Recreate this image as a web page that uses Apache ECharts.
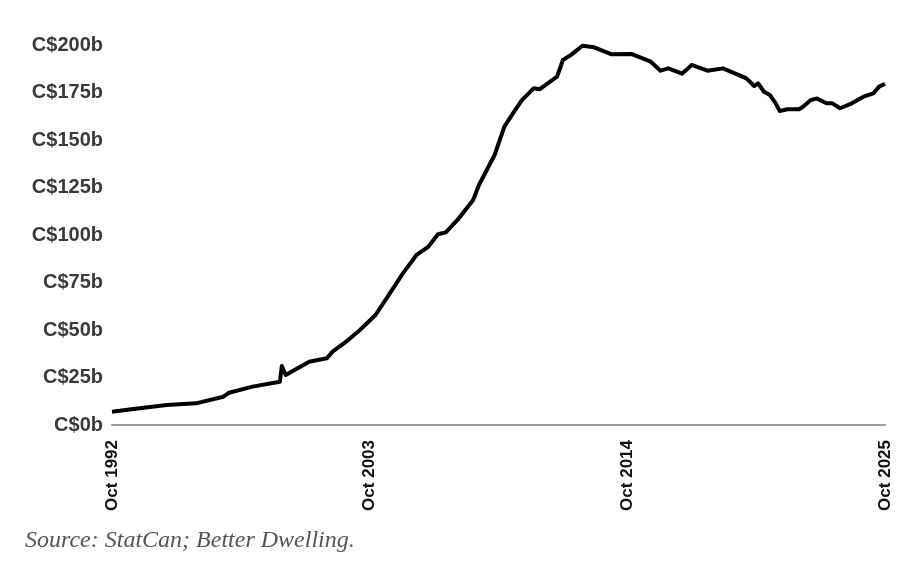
<!DOCTYPE html>
<html>
<head>
<meta charset="utf-8">
<script src="https://cdn.jsdelivr.net/npm/echarts@6/dist/echarts.min.js"></script>
<style>
html,body{margin:0;padding:0;background:#fff;}
#chart{width:922px;height:566px;}
</style>
</head>
<body>
<div id="chart"></div>
<script>
// Dates (year-month) and values in C$ billions
const dates = ["1992-10","1993-09","1995-02","1996-05","1997-07","1997-10","1998-10","1999-12","2000-01","2000-03",
"2001-03","2001-12","2002-03","2002-11","2003-05","2004-01","2004-10","2005-03","2005-10","2006-04",
"2006-09","2007-01","2007-07","2008-03","2008-06","2009-02","2009-07","2009-12","2010-04","2010-10",
"2011-01","2011-10","2012-01","2012-05","2012-11","2013-05","2014-02","2014-12","2015-10","2016-03",
"2016-07","2017-02","2017-07","2018-03","2018-11","2019-06","2019-11","2020-03","2020-05","2020-08",
"2020-11","2021-02","2021-04","2021-08","2022-02","2022-04","2022-08","2022-11","2023-04","2023-07",
"2023-11","2024-05","2024-11","2025-04","2025-07","2025-10"];
const values = [7.0,8.4,10.5,11.4,14.9,17.0,20.2,22.8,31.0,26.3,
33.3,35.1,38.6,44.7,50.0,57.9,71.9,79.8,89.5,93.8,
100.4,101.4,107.9,118.4,126.3,142.1,157.0,164.9,171.0,177.2,
176.7,183.3,192.1,194.7,199.6,198.8,195.1,195.3,191.2,186.5,
187.7,184.9,189.5,186.5,187.7,184.7,182.4,178.4,179.8,175.4,
173.7,169.3,165.3,166.2,166.2,167.5,171.0,171.9,169.3,169.3,
166.7,169.3,172.8,174.5,178.1,179.6];
const xTickLabels = ["Oct 1992","Oct 2003","Oct 2014","Oct 2025"];
const yTickLabels = ["C$0b","C$25b","C$50b","C$75b","C$100b","C$125b","C$150b","C$175b","C$200b"];

// month offset from Oct 1992
function monthIndex(s){
  const p = s.split("-");
  return (parseInt(p[0],10)-1992)*12 + (parseInt(p[1],10)-10);
}
const seriesData = dates.map((d,i)=>[monthIndex(d), values[i]]);

const chart = echarts.init(document.getElementById('chart'), null, {renderer:'canvas'});
chart.setOption({
  animation:false,
  backgroundColor:'#fff',
  grid:{left:112,right:37,top:45,bottom:141,containLabel:false},
  xAxis:{
    type:'value', min:0, max:396, interval:132,
    axisLine:{show:true,lineStyle:{color:'#9a9a9a',width:2}},
    axisTick:{show:false},
    splitLine:{show:false},
    axisLabel:{
      rotate:90, margin:15,
      fontFamily:'Arial, "Liberation Sans", sans-serif',
      fontWeight:'bold', fontSize:17, color:'#111',
      formatter:function(v){ return xTickLabels[Math.round(v/132)] || ''; }
    }
  },
  yAxis:{
    type:'value', min:0, max:200, interval:25,
    axisLine:{show:false}, axisTick:{show:false}, splitLine:{show:false},
    axisLabel:{
      margin:9,
      fontFamily:'Arial, "Liberation Sans", sans-serif',
      fontWeight:'bold', fontSize:20, color:'#3a3a3a',
      formatter:function(v){ return yTickLabels[Math.round(v/25)] || ''; }
    }
  },
  graphic:[{
    type:'text', left:25, top:529,
    style:{text:'Source: StatCan; Better Dwelling.', fill:'#555',
      font:'italic 24px "Liberation Serif", "DejaVu Serif", serif'}
  }],
  series:[{
    type:'line', data:seriesData, showSymbol:false, symbol:'none',
    lineStyle:{color:'#000',width:4,join:'round'},
    smooth:false
  }]
});
</script>
</body>
</html>
